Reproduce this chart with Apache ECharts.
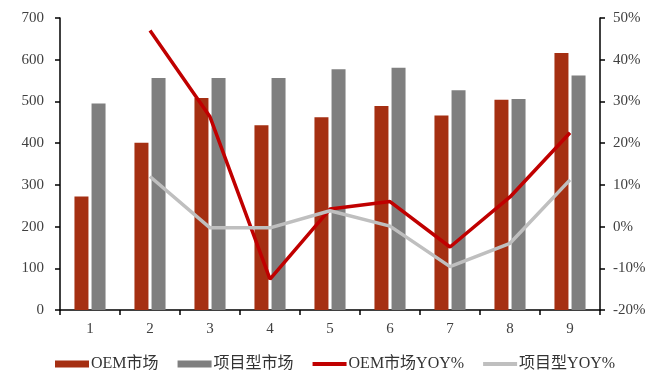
<!DOCTYPE html>
<html>
<head>
<meta charset="utf-8">
<script src="https://cdn.jsdelivr.net/npm/echarts@6/dist/echarts.min.js"></script>
<style>
  html, body { margin: 0; padding: 0; background: #fff; }
  #chart { width: 652px; height: 374px; }
</style>
</head>
<body>
<div id="chart"></div>
<script>
// Months 1-9
const categories = ['1', '2', '3', '4', '5', '6', '7', '8', '9'];
// Market size (left axis)
const oemMarket = [272, 401, 508, 443, 462, 489, 466, 504, 616];
const projectMarket = [495, 556, 556, 556, 577, 581, 527, 506, 562];
// Year-over-year growth, % (right axis)
const oemYoy = [null, 47, 26.3, -12.6, 4.2, 6, -4.9, 7.1, 22.5];
const projectYoy = [null, 12, -0.3, -0.3, 3.8, 0.1, -9.6, -4, 11.2];

const serif = '"Liberation Serif", "Noto Sans CJK SC", serif';
const labelFont = { color: '#404040', fontSize: 15, fontFamily: serif };
const axisLine = { show: true, lineStyle: { color: '#000', width: 1.5 } };
const tick = { show: true, length: 5, lineStyle: { color: '#000', width: 1.5 } };
// thin bar used as the legend mark for the line series
const lineIcon = 'path://M0,0 H34 V4 H0 Z';

const chart = echarts.init(document.getElementById('chart'));
chart.setOption({
  animation: false,
  grid: { left: 60, right: 52, top: 18, bottom: 64 },
  legend: {
    bottom: 2,
    padding: 0,
    left: 55,
    itemGap: 19,
    itemWidth: 34,
    itemHeight: 7,
    textStyle: { color: '#333', fontSize: 16, fontFamily: serif, padding: [0, 0, 0, -3] },
    data: [
      { name: 'OEM市场', icon: 'rect' },
      { name: '项目型市场', icon: 'rect' },
      { name: 'OEM市场YOY%', icon: lineIcon },
      { name: '项目型YOY%', icon: lineIcon }
    ]
  },
  xAxis: {
    type: 'category',
    data: categories,
    axisLine: axisLine,
    axisTick: tick,
    axisLabel: Object.assign({ margin: 12 }, labelFont)
  },
  yAxis: [
    {
      type: 'value', min: 0, max: 700, interval: 100,
      axisLine: axisLine,
      axisTick: tick,
      axisLabel: Object.assign({ margin: 16 }, labelFont),
      splitLine: { show: false }
    },
    {
      type: 'value', min: -20, max: 50, interval: 10,
      axisLine: axisLine,
      axisTick: tick,
      axisLabel: Object.assign({ margin: 13, formatter: '{value}%' }, labelFont),
      splitLine: { show: false }
    }
  ],
  series: [
    {
      name: 'OEM市场', type: 'bar', data: oemMarket,
      barWidth: 14, barGap: '22%',
      itemStyle: { color: '#A52F12' }
    },
    {
      name: '项目型市场', type: 'bar', data: projectMarket,
      barWidth: 14,
      itemStyle: { color: '#7F7F7F' }
    },
    {
      name: 'OEM市场YOY%', type: 'line', yAxisIndex: 1, data: oemYoy,
      symbol: 'none', lineStyle: { color: '#C00000', width: 3.5 },
      itemStyle: { color: '#C00000' }
    },
    {
      name: '项目型YOY%', type: 'line', yAxisIndex: 1, data: projectYoy,
      symbol: 'none', lineStyle: { color: '#BFBFBF', width: 3.5 },
      itemStyle: { color: '#BFBFBF' }
    }
  ]
});
</script>
</body>
</html>
